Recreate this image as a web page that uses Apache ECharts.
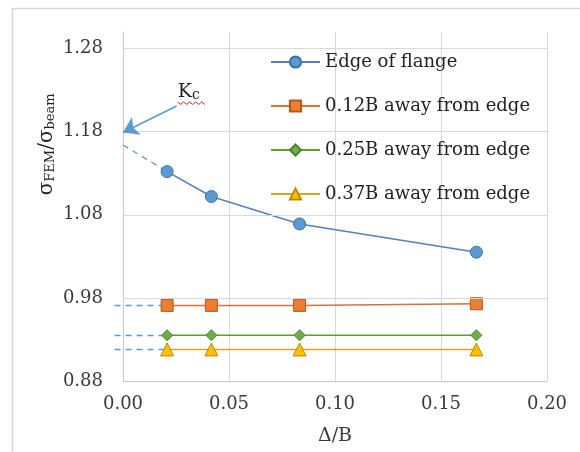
<!DOCTYPE html>
<html>
<head>
<meta charset="utf-8">
<script src="https://cdn.jsdelivr.net/npm/echarts@6/dist/echarts.min.js"></script>
<style>html,body{margin:0;padding:0;background:#fff}#c{width:580px;height:452px}</style>
</head>
<body>
<div id="c"></div>
<script>
// ---- data ----
var xVals = [0.0208, 0.0417, 0.0833, 0.1667];
var seriesNames = ['Edge of flange', '0.12B away from edge', '0.25B away from edge', '0.37B away from edge'];
var edgeVals = [1.132, 1.102, 1.069, 1.035];
var b012Vals = [0.971, 0.971, 0.971, 0.973];
var b025Vals = [0.935, 0.935, 0.935, 0.935];
var b037Vals = [0.918, 0.918, 0.918, 0.918];
var kcValue = 1.179;          // arrow tip (Kc)
var kcIntercept = 1.164;      // extrapolated start of dashed line
var dashStartX = -0.004;      // dashed extensions start slightly left of axis
var arrowStart = [0.0253, 1.211];
var yTicks = [0.98, 1.08, 1.18, 1.28];

var FONT = 'DejaVu Serif';
var TXT = '#3a3a3a';
var GRID = '#d9d9d9';

function pairs(vals) { return xVals.map(function (x, i) { return [x, vals[i]]; }); }

var styles = [
  { c: '#5B9BD5', line: '#5580bb', b: '#41719C', sym: 'circle', size: 12 },
  { c: '#ED7D31', line: '#d8703a', b: '#AE5A21', sym: 'rect', size: 12 },
  { c: '#70AD47', line: '#5f9a3c', b: '#507E32', sym: 'diamond', size: 11 },
  { c: '#FFC000', line: '#d9a520', b: '#BC8C00', sym: 'triangle', size: 13 }
];
var allVals = [edgeVals, b012Vals, b025Vals, b037Vals];

var dashLines = [{ coords: [[0, kcIntercept], [xVals[0], edgeVals[0]]] }];
[b012Vals, b025Vals, b037Vals].forEach(function (v) {
  dashLines.push({ coords: [[dashStartX, v[0]], [xVals[0], v[0]]] });
});

var series = [];
series.push({
  type: 'lines', name: 'dashes', coordinateSystem: 'cartesian2d', silent: true, clip: false, z: 1,
  data: dashLines,
  lineStyle: { color: '#5B9BD5', width: 1.3, type: [6, 5], opacity: 1 }
});
series.push({
  type: 'line', name: 'helper', silent: true, clip: false, data: [], z: 0,
  markLine: {
    silent: true, symbol: ['none', 'none'], label: { show: false },
    lineStyle: { color: GRID, width: 1, type: 'solid' },
    data: yTicks.map(function (t) { return { yAxis: t }; })
  }
});
series.push({
  type: 'line', name: 'arrow', silent: true, clip: false, data: [], z: 5,
  markLine: {
    silent: true, symbol: ['none', 'arrow'], symbolSize: 15, label: { show: false },
    itemStyle: { color: '#5B9BD5' },
    lineStyle: { color: '#5B9BD5', width: 1.6, type: 'solid' },
    data: [[{ coord: arrowStart }, { coord: [0, kcValue] }]]
  }
});
allVals.forEach(function (v, i) {
  var s = styles[i];
  series.push({
    type: 'line', name: seriesNames[i], data: pairs(v), z: 3,
    symbol: s.sym, symbolSize: s.size, showAllSymbol: true,
    itemStyle: { color: s.c, borderColor: s.b, borderWidth: 1 },
    lineStyle: { color: s.line, width: 1.5 }
  });
});

var chart = echarts.init(document.getElementById('c'), null, { renderer: 'canvas' });
chart.setOption({
  animation: false,
  backgroundColor: '#fff',
  textStyle: { fontFamily: FONT },
  grid: { left: 123, right: 33, top: 32, bottom: 71 },
  legend: {
    data: seriesNames, orient: 'vertical', left: 265, top: 47,
    itemWidth: 49, itemHeight: 14, itemGap: 24,
    textStyle: { fontFamily: FONT, fontSize: 18, color: '#222', lineHeight: 20 }
  },
  xAxis: {
    type: 'value', min: 0, max: 0.2, interval: 0.05,
    name: 'Δ/B', nameLocation: 'middle', nameGap: 46,
    nameTextStyle: { fontFamily: FONT, fontSize: 19, color: TXT },
    axisLine: { show: true, lineStyle: { color: '#c8c8c8' } },
    axisTick: { show: false },
    axisLabel: { fontFamily: FONT, fontSize: 18, color: TXT, margin: 14,
      formatter: function (v) { return v.toFixed(2); } },
    splitLine: { show: true, lineStyle: { color: GRID } }
  },
  yAxis: {
    type: 'value', min: 0.88, max: 1.30, interval: 0.1,
    axisLine: { show: true, lineStyle: { color: '#c8c8c8' } },
    axisTick: { show: false },
    axisLabel: { fontFamily: FONT, fontSize: 18, color: TXT, margin: 20,
      formatter: function (v) { return v > 1.29 ? '' : v.toFixed(2); } },
    splitLine: { show: false }
  },
  series: series
});

var kcPos = chart.convertToPixel({ gridIndex: 0 }, [0.0258, 1.214]);
var wave = [];
for (var i = 0; i <= 9; i++) wave.push([kcPos[0] + i * 3, kcPos[1] - 1.5 + (i % 2 ? 2.5 : 0)]);
var yNameCenter = chart.convertToPixel({ gridIndex: 0 }, [0, 1.16]);
chart.setOption({
  graphic: [
    { type: 'line', shape: { x1: 12, y1: 8.5, x2: 580, y2: 8.5 }, style: { stroke: '#d6d6d6', lineWidth: 1.5 }, silent: true },
    { type: 'line', shape: { x1: 12.5, y1: 8, x2: 12.5, y2: 452 }, style: { stroke: '#d6d6d6', lineWidth: 1.5 }, silent: true },
    { type: 'text', left: kcPos[0], top: kcPos[1] - 21, silent: true,
      style: { text: 'K{s|c}', fill: '#222', font: '19px "DejaVu Serif"',
        rich: { s: { fontFamily: FONT, fontSize: 14, fill: '#222', padding: [6, 0, 0, 0] } } } },
    { type: 'polyline', shape: { points: wave }, style: { stroke: '#e02020', lineWidth: 1, fill: null }, silent: true },
    { type: 'text', x: 47, y: yNameCenter[1] - 4, rotation: Math.PI / 2, silent: true,
      style: { text: 'σ{s|FEM}/σ{s|beam}', fill: '#222', font: '20px "DejaVu Serif"',
        align: 'center', verticalAlign: 'middle',
        rich: { s: { fontFamily: FONT, fontSize: 13, fill: '#222', padding: [8, 0, 0, 0] } } } }
  ]
});
</script>
</body>
</html>
